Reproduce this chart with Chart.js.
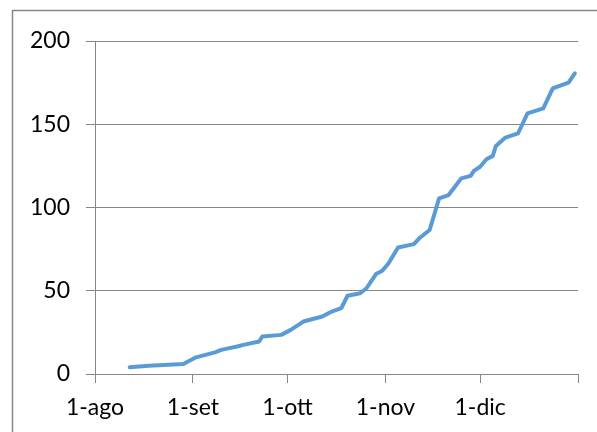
<!DOCTYPE html>
<html>
<head>
<meta charset="utf-8">
<script src="https://cdn.jsdelivr.net/npm/chart.js@4"></script>
<style>
  html, body { margin: 0; padding: 0; background: #ffffff; }
  #wrap { width: 597px; height: 432px; position: relative; }
  canvas { display: block; }
</style>
</head>
<body>
<div id="wrap"><canvas id="c" width="597" height="432"></canvas></div>
<script>
// ---- data ----
const dates = ['08-12','08-18','08-29','09-02','09-08','09-10','09-15','09-17','09-22','09-23','09-29',
  '10-02','10-06','10-12','10-15','10-18','10-20','10-24','10-26','10-29','10-31',
  '11-02','11-05','11-10','11-12','11-15','11-18','11-21','11-23','11-25','11-28','11-29',
  '12-01','12-03','12-05','12-06','12-09','12-13','12-14','12-16','12-21','12-24','12-29','12-31'];
const values = [4,5,6,10,13,14.5,16.5,17.5,19.5,22.5,23.5,
  26.5,31.5,34.5,37.5,39.5,47,48.5,51.5,60,62,
  66.5,76,78,82,86.5,105.5,107.5,112.5,117.5,119,122,
  124.5,129,131,137,142,144.5,148.5,156.5,159.5,171.5,175,180.5];
const tickDates = ['08-01','09-01','10-01','11-01','12-01','01-01'];
const tickLabels = ['1-ago','1-set','1-ott','1-nov','1-dic',''];
const yTicks = [0,50,100,150,200];

// days since 1 August (January belongs to the following year)
function dayOf(md) {
  const [m, d] = md.split('-').map(Number);
  const year = m < 8 ? 2001 : 2000;
  return (Date.UTC(year, m - 1, d) - Date.UTC(2000, 7, 1)) / 86400000;
}
const points = dates.map((d, i) => ({ x: dayOf(d), y: values[i] }));
const tickPos = tickDates.map(dayOf);

const GRAY = '#868686';
const FONT = { family: 'Lato', size: 23 };

const frame = {
  id: 'frame',
  beforeDraw(chart) {
    const ctx = chart.ctx;
    ctx.save();
    ctx.fillStyle = '#ffffff';
    ctx.fillRect(0, 0, chart.width, chart.height);
    ctx.strokeStyle = GRAY;
    ctx.lineWidth = 1.5;
    ctx.beginPath();
    ctx.moveTo(12.5, chart.height + 5);
    ctx.lineTo(12.5, 10.5);
    ctx.lineTo(chart.width + 5, 10.5);
    ctx.stroke();
    ctx.restore();
  }
};

new Chart(document.getElementById('c'), {
  type: 'line',
  data: {
    datasets: [{
      data: points,
      borderColor: '#5B9BD5',
      borderWidth: 4,
      pointRadius: 0,
      tension: 0,
      borderCapStyle: 'round',
      borderJoinStyle: 'round',
      fill: false
    }]
  },
  options: {
    responsive: false,
    animation: false,
    events: [],
    layout: { padding: { top: 41, right: 19, left: 0, bottom: 0 } },
    plugins: { legend: { display: false }, tooltip: { enabled: false } },
    scales: {
      x: {
        type: 'linear',
        min: tickPos[0],
        max: tickPos[tickPos.length - 1],
        afterBuildTicks(s) { s.ticks = tickPos.map(v => ({ value: v })); },
        afterFit(s) { s.height = 58; },
        ticks: {
          autoSkip: false,
          maxRotation: 0,
          padding: 11,
          color: '#000000',
          font: FONT,
          callback(v) { const i = tickPos.indexOf(v); return i >= 0 ? tickLabels[i] : ''; }
        },
        grid: { drawOnChartArea: false, drawTicks: true, tickLength: 9, color: GRAY, lineWidth: 1 },
        border: { display: true, color: GRAY, width: 1 }
      },
      y: {
        min: 0,
        max: 200,
        afterBuildTicks(s) { s.ticks = yTicks.map(v => ({ value: v })); },
        afterFit(s) { s.width = 95; },
        ticks: { padding: 16, color: '#000000', font: FONT },
        grid: { drawTicks: true, tickLength: 9, color: GRAY, lineWidth: 1 },
        border: { display: true, color: GRAY, width: 1 }
      }
    }
  },
  plugins: [frame]
});
</script>
</body>
</html>
